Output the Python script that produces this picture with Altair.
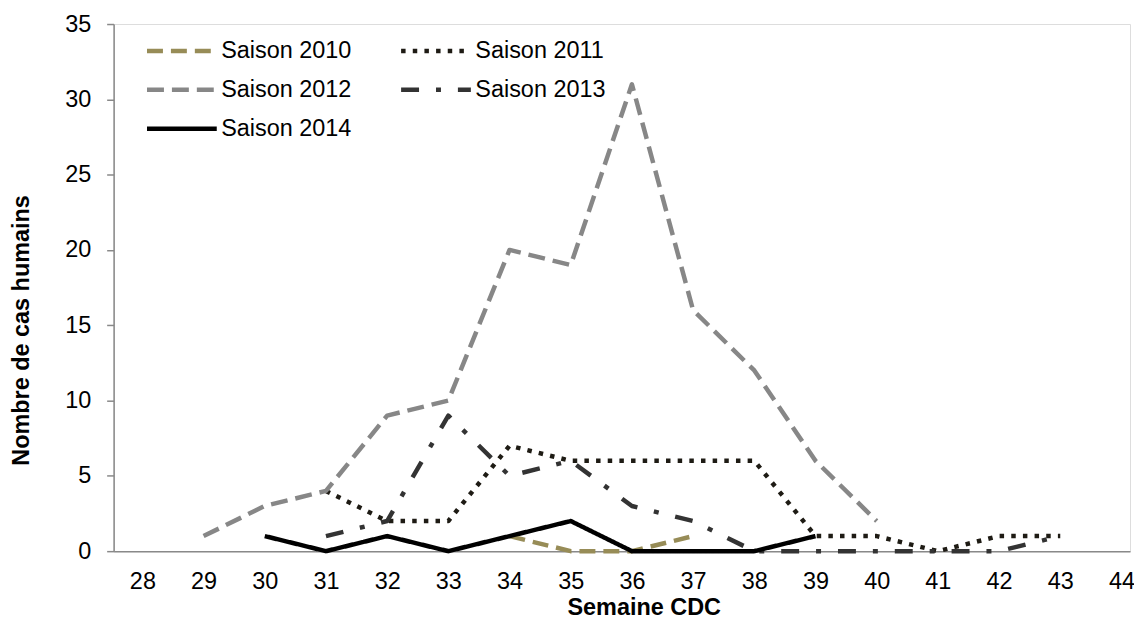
import altair as alt
import pandas as pd

seasons = ["Saison 2010", "Saison 2011", "Saison 2012", "Saison 2013", "Saison 2014"]

weeks_2010 = [34, 35, 36, 37]
cases_2010 = [1, 0, 0, 1]

weeks_2011 = [31, 32, 33, 34, 35, 36, 37, 38, 39, 40, 41, 42, 43]
cases_2011 = [4, 2, 2, 7, 6, 6, 6, 6, 1, 1, 0, 1, 1]

weeks_2012 = [29, 30, 31, 32, 33, 34, 35, 36, 37, 38, 39, 40]
cases_2012 = [1, 3, 4, 9, 10, 20, 19, 31, 16, 12, 6, 2]

weeks_2013 = [31, 32, 33, 34, 35, 36, 37, 38, 39, 40, 41, 42, 43]
cases_2013 = [1, 2, 9, 5, 6, 3, 2, 0, 0, 0, 0, 0, 1]

weeks_2014 = [30, 31, 32, 33, 34, 35, 36, 37, 38, 39]
cases_2014 = [1, 0, 1, 0, 1, 2, 0, 0, 0, 1]

x_ticks = list(range(28, 45))
y_ticks = [0, 5, 10, 15, 20, 25, 30, 35]

colors = ["#978c57", "#1e1b14", "#878787", "#333333", "#000000"]
dashes = [[16, 8], [4.5, 7.2], [17, 8], [18, 17, 5, 17], [1, 0]]

rows = []
for s, w, c in [
    (seasons[0], weeks_2010, cases_2010),
    (seasons[1], weeks_2011, cases_2011),
    (seasons[2], weeks_2012, cases_2012),
    (seasons[3], weeks_2013, cases_2013),
    (seasons[4], weeks_2014, cases_2014),
]:
    for wi, ci in zip(w, c):
        rows.append({"saison": s, "semaine": wi, "cas": ci})
df = pd.DataFrame(rows)

FONT = "Liberation Sans"
AX = "#898989"

legend = alt.Legend(
    title=None,
    orient="none",
    direction="horizontal",
    legendX=31,
    legendY=14,
    columns=2,
    columnPadding=47,
    rowPadding=13,
    clipHeight=26,
    labelOffset=2,
    symbolType="stroke",
    symbolSize=4900,
    symbolStrokeWidth=4.5,
    labelFontSize=23.5,
    labelFont=FONT,
    labelColor="#000000",
    padding=0,
    labelLimit=300,
)

chart = (
    alt.Chart(df)
    .mark_line(strokeWidth=4.5, strokeJoin="round")
    .encode(
        x=alt.X(
            "semaine:Q",
            scale=alt.Scale(domain=[27.53, 44.14], nice=False, zero=False),
            axis=alt.Axis(
                values=x_ticks,
                ticks=False,
                tickSize=0,
                grid=False,
                domainColor=AX,
                domainWidth=1.5,
                labelFontSize=23.5,
                labelFont=FONT,
                labelColor="#000000",
                labelPadding=18,
                labelFlush=False,
                title="Semaine CDC",
                titleFont=FONT,
                titleFontSize=23.5,
                titleFontWeight="bold",
                titleColor="#000000",
                titleX=532,
                titleY=64,
                titleBaseline="alphabetic",
            ),
        ),
        y=alt.Y(
            "cas:Q",
            scale=alt.Scale(domain=[0, 35], nice=False),
            axis=alt.Axis(
                values=y_ticks,
                grid=False,
                domainColor=AX,
                domainWidth=1.5,
                tickColor=AX,
                tickWidth=1.5,
                tickSize=7,
                labelFontSize=23.5,
                labelFont=FONT,
                labelColor="#000000",
                labelPadding=16,
                title="Nombre de cas humains",
                titleFont=FONT,
                titleFontSize=23.5,
                titleFontWeight="bold",
                titleColor="#000000",
                titleAngle=270,
                titleX=-92,
                titleY=307,
                titleAlign="center",
                titleBaseline="middle",
            ),
        ),
        color=alt.Color(
            "saison:N",
            scale=alt.Scale(domain=seasons, range=colors),
            legend=legend,
        ),
        strokeDash=alt.StrokeDash(
            "saison:N",
            scale=alt.Scale(domain=seasons, range=dashes),
            legend=legend,
        ),
        order=alt.Order("semaine:Q"),
    )
    .properties(
        width=1020,
        height=529,
        autosize=alt.AutoSizeParams(type="none"),
        padding={"left": 106, "top": 15, "right": 4, "bottom": 69},
    )
    .configure_view(stroke=None)
    .configure(background="#ffffff")
)

chart.save("out.html", embed_options={"renderer": "svg", "actions": False})
